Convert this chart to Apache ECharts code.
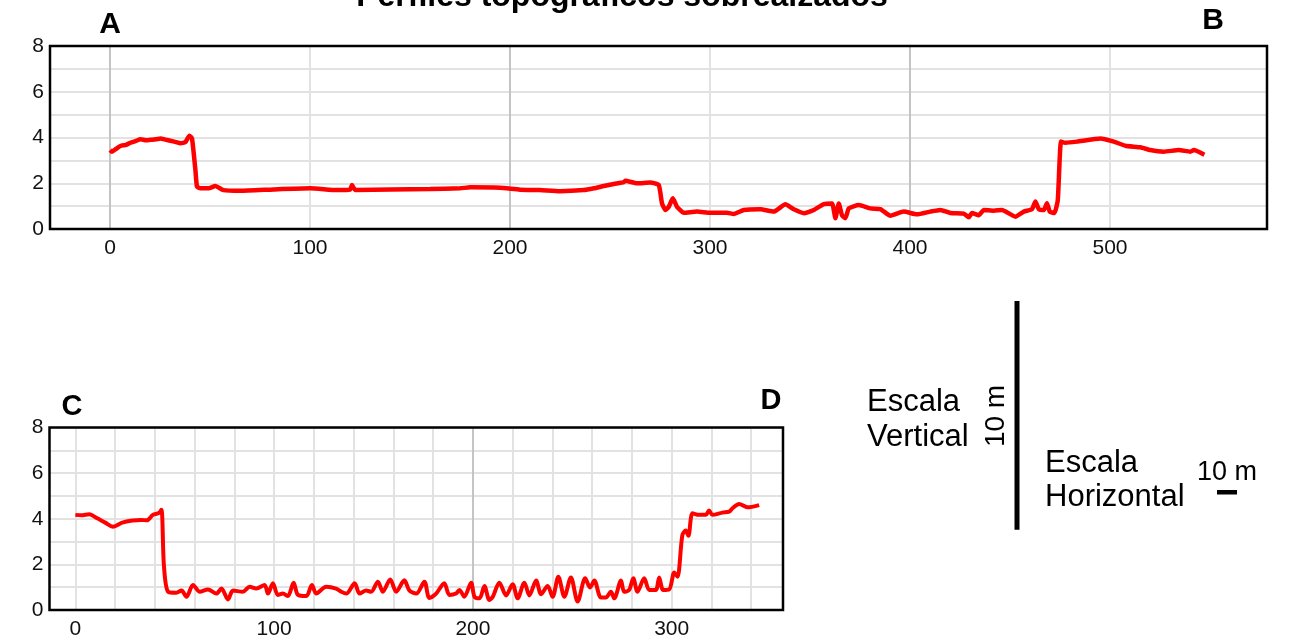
<!DOCTYPE html>
<html>
<head>
<meta charset="utf-8">
<script src="https://cdn.jsdelivr.net/npm/echarts@6/dist/echarts.min.js"></script>
<style>
html,body{margin:0;padding:0;background:#fff;}
#chart{width:1300px;height:643px;}
</style>
</head>
<body>
<div id="chart"></div>
<script>
// ---- Data ----
const titleText = 'Perfiles topográficos sobrealzados';
const yTicks = [0, 2, 4, 6, 8];
const abTickLabels = [0, 100, 200, 300, 400, 500];
const cdTickLabels = [0, 100, 200, 300];
const abGridX = [0, 100, 200, 300, 400, 500];
const abGridXDark = [0, 200, 400];
const cdGridX = [0, 20, 40, 60, 80, 100, 120, 140, 160, 180, 200, 220, 240, 260, 280, 300, 320, 340];
const cdGridXDark = [200];

// Profile A-B : distance (m) and elevation (m)
const abDist = [0, 1, 3, 5.2, 8, 10.2, 13, 15.2, 18, 20.2, 23, 25.2, 28, 30.2, 33, 35.2, 37.7, 39.7, 41, 42.7, 43.5, 45.2, 49.4, 52.7, 56.7, 65.2, 81.7, 100.2, 113.5, 120, 121, 122.7, 140.2, 160, 175, 180, 195, 205, 215, 225, 236.9, 242, 246.9, 251.9, 256.9, 257.7, 263.5, 270.2, 274.4, 276, 277.7, 279.4, 281.4, 283.5, 286.9, 293.5, 300.2, 308.5, 311.9, 316.9, 325.2, 331.9, 337.7, 341.9, 346.9, 351.9, 356.9, 361, 362.7, 364.4, 366, 367.7, 369.4, 374.4, 380.2, 385.2, 390.2, 396.9, 403.5, 410.2, 415.2, 420.2, 426.9, 429.4, 431, 434.4, 436.9, 441.9, 446, 452.7, 456.9, 461, 462.7, 464.4, 466.9, 468.5, 469.9, 472.2, 473.9, 475.5, 477.7, 483.5, 495.2, 501.9, 507.7, 515.2, 520.2, 526.9, 534.4, 540.2, 541.9, 547.2];
const abElev = [3.45, 3.38, 3.5, 3.63, 3.68, 3.77, 3.85, 3.92, 3.88, 3.9, 3.92, 3.96, 3.9, 3.86, 3.8, 3.75, 3.8, 4.08, 3.96, 2.58, 1.85, 1.78, 1.78, 1.88, 1.7, 1.67, 1.73, 1.78, 1.7, 1.72, 1.92, 1.7, 1.73, 1.75, 1.78, 1.82, 1.8, 1.72, 1.7, 1.65, 1.7, 1.78, 1.88, 1.97, 2.05, 2.11, 2.0, 2.03, 1.92, 1.12, 0.83, 0.97, 1.34, 0.97, 0.71, 0.76, 0.71, 0.71, 0.66, 0.83, 0.86, 0.76, 1.08, 0.86, 0.69, 0.83, 1.09, 1.12, 0.47, 1.12, 0.6, 0.47, 0.9, 1.05, 0.9, 0.87, 0.58, 0.76, 0.64, 0.76, 0.83, 0.7, 0.67, 0.51, 0.7, 0.6, 0.83, 0.8, 0.83, 0.54, 0.76, 0.87, 1.2, 0.87, 0.83, 1.13, 0.76, 0.7, 1.27, 3.82, 3.77, 3.82, 3.96, 3.82, 3.64, 3.57, 3.45, 3.38, 3.45, 3.38, 3.45, 3.25];

// Profile C-D : distance (m) and elevation (m)
const cdDist = [0, 3, 7, 11, 15, 19, 23.6, 28.7, 33, 36, 39, 42, 43.3, 44.6, 46.7, 50.8, 53.4, 55.9, 59.2, 62.6, 66.7, 71, 73.5, 76.8, 79.3, 84.3, 87.7, 91, 95.2, 96.9, 99.4, 101.9, 104.4, 106.9, 109.8, 112, 116.2, 119, 121.2, 126.2, 131.2, 133.8, 136.3, 140.5, 143, 146.3, 148.8, 152.2, 154.7, 158.4, 161.4, 165.5, 168.1, 171.5, 175.6, 178.1, 181.5, 185.6, 188.2, 191.5, 193.2, 195.7, 199.1, 200.8, 203.3, 205.8, 208.3, 210, 213.3, 216.7, 220, 222.5, 225.9, 228.4, 231.8, 234.3, 237.6, 240.1, 243, 246, 249.3, 252.7, 256.5, 258.9, 261.1, 264.4, 266.9, 269.4, 271.1, 274.5, 276.1, 278.6, 280.7, 282.8, 286.2, 288.7, 292, 293.7, 295.7, 298.7, 301.3, 302.9, 305.4, 307.1, 308.4, 310.5, 313.8, 317.2, 318.8, 320.5, 325.5, 328.9, 330.6, 333.9, 338.1, 344];
const cdElev = [4.17, 4.15, 4.2, 4.02, 3.83, 3.65, 3.83, 3.92, 3.95, 3.93, 4.17, 4.25, 4.39, 1.9, 0.8, 0.76, 0.85, 0.58, 1.1, 0.8, 0.9, 0.72, 0.94, 0.46, 0.85, 0.8, 1.02, 0.94, 1.1, 0.72, 1.17, 0.66, 0.72, 0.61, 1.2, 0.66, 0.61, 1.1, 0.72, 1.02, 0.94, 0.8, 0.72, 1.17, 0.72, 0.85, 0.8, 1.24, 0.8, 1.34, 0.8, 1.3, 0.85, 0.72, 1.24, 0.53, 0.72, 1.17, 0.66, 0.72, 0.88, 0.58, 1.2, 0.58, 0.51, 1.05, 0.44, 0.58, 1.2, 0.64, 1.13, 0.51, 1.2, 0.64, 1.29, 0.69, 1.05, 0.58, 1.46, 0.58, 1.43, 0.37, 1.39, 0.99, 1.29, 0.55, 0.55, 0.8, 0.51, 1.29, 0.8, 0.88, 1.39, 0.8, 1.39, 0.88, 0.88, 1.43, 0.88, 0.9, 1.64, 1.46, 3.29, 3.48, 3.25, 4.24, 4.17, 4.17, 4.36, 4.17, 4.27, 4.31, 4.46, 4.65, 4.5, 4.6];

const scaleLen = 10; // metres for scale bars

// ---- Chart ----
const FONT = '"Liberation Sans", Arial, sans-serif';
const chart = echarts.init(document.getElementById('chart'), null, {renderer: 'canvas'});

function pairs(xs, ys) { return xs.map((x, i) => [x, ys[i]]); }

function yAxisDef(gi) {
  return {
    type: 'value', gridIndex: gi, min: 0, max: 8, interval: 1,
    axisLine: {show: false}, axisTick: {show: false},
    axisLabel: {
      color: '#111', fontFamily: FONT, fontSize: 21, margin: 6,
      formatter: v => (yTicks.indexOf(v) >= 0 ? String(v) : '')
    },
    splitLine: {show: true, lineStyle: {color: '#e2e2e2', width: 2}}
  };
}
function xAxisDef(gi, min, max, labels) {
  return {
    type: 'value', gridIndex: gi, min: min, max: max,
    axisLine: {show: false}, axisTick: {show: false, customValues: labels},
    axisLabel: {color: '#111', fontFamily: FONT, fontSize: 21, margin: 9, customValues: labels},
    splitLine: {show: false}
  };
}
function gridLines(gi, vals, dark) {
  return {
    type: 'line', xAxisIndex: gi, yAxisIndex: gi, data: [], silent: true, z: 1,
    markLine: {
      silent: true, symbol: ['none', 'none'], z: 1, animation: false,
      label: {show: false},
      data: vals.map(v => ({xAxis: v, lineStyle: {color: dark.indexOf(v) >= 0 ? '#c4c4c4' : '#e2e2e2', width: 2, type: 'solid'}}))
    }
  };
}

const option = {
  animation: false,
  backgroundColor: '#fff',
  grid: [
    {left: 50, top: 46, width: 1217, height: 183, show: false},
    {left: 49.5, top: 427.5, width: 733.5, height: 182.5, show: false}
  ],
  xAxis: [xAxisDef(0, -30, 578.5, abTickLabels), xAxisDef(1, -13, 356, cdTickLabels)],
  yAxis: [yAxisDef(0), yAxisDef(1)],
  series: [
    gridLines(0, abGridX, abGridXDark),
    gridLines(1, cdGridX, cdGridXDark),
    {
      name: 'A-B', type: 'line', xAxisIndex: 0, yAxisIndex: 0, z: 3,
      data: pairs(abDist, abElev), showSymbol: false, smooth: 0.15,
      lineStyle: {color: '#ff0000', width: 4.5}
    },
    {
      name: 'C-D', type: 'line', xAxisIndex: 1, yAxisIndex: 1, z: 3,
      data: pairs(cdDist, cdElev), showSymbol: false, smooth: 0.3,
      lineStyle: {color: '#ff0000', width: 4}
    }
  ],
  graphic: [
    {id: 'title', type: 'text', silent: true, style: {text: titleText, x: 622, y: -3, textAlign: 'center', textVerticalAlign: 'middle', fill: '#000', font: 'bold 32px ' + FONT}},
    {id: 'lA', type: 'text', silent: true, style: {text: 'A', x: 110, y: 24.5, textAlign: 'center', textVerticalAlign: 'middle', fill: '#000', font: 'bold 30px ' + FONT}},
    {id: 'lB', type: 'text', silent: true, style: {text: 'B', x: 1213, y: 21, textAlign: 'center', textVerticalAlign: 'middle', fill: '#000', font: 'bold 30px ' + FONT}},
    {id: 'lC', type: 'text', silent: true, style: {text: 'C', x: 72, y: 407, textAlign: 'center', textVerticalAlign: 'middle', fill: '#000', font: 'bold 29px ' + FONT}},
    {id: 'lD', type: 'text', silent: true, style: {text: 'D', x: 771, y: 401, textAlign: 'center', textVerticalAlign: 'middle', fill: '#000', font: 'bold 29px ' + FONT}},
    {id: 'ev1', type: 'text', silent: true, style: {text: 'Escala', x: 867, y: 402, textAlign: 'left', textVerticalAlign: 'middle', fill: '#000', font: '31px ' + FONT}},
    {id: 'ev2', type: 'text', silent: true, style: {text: 'Vertical', x: 867, y: 437, textAlign: 'left', textVerticalAlign: 'middle', fill: '#000', font: '31px ' + FONT}},
    {id: 'ev3', type: 'text', silent: true, x: 996, y: 416, rotation: Math.PI / 2, style: {text: '10 m', x: 0, y: 0, textAlign: 'center', textVerticalAlign: 'middle', fill: '#000', font: '28px ' + FONT}},
    {id: 'eh1', type: 'text', silent: true, style: {text: 'Escala', x: 1045, y: 463, textAlign: 'left', textVerticalAlign: 'middle', fill: '#000', font: '31px ' + FONT}},
    {id: 'eh2', type: 'text', silent: true, style: {text: 'Horizontal', x: 1045, y: 497, textAlign: 'left', textVerticalAlign: 'middle', fill: '#000', font: '31px ' + FONT}},
    {id: 'eh3', type: 'text', silent: true, style: {text: '10 m', x: 1197, y: 473, textAlign: 'left', textVerticalAlign: 'middle', fill: '#000', font: '27px ' + FONT}}
  ]
};
chart.setOption(option);

// Frames and scale bars derived from the axes' own scales
function frameFor(gi) {
  const a = chart.convertToPixel({gridIndex: gi}, [gi === 0 ? -30 : -13, 8]);
  const b = chart.convertToPixel({gridIndex: gi}, [gi === 0 ? 578.5 : 356, 0]);
  return {id: 'frame' + gi, type: 'rect', silent: true, z: 50,
    shape: {x: a[0], y: a[1], width: b[0] - a[0], height: b[1] - a[1]},
    style: {fill: 'none', stroke: '#000', lineWidth: 2.5}};
}
const p0 = chart.convertToPixel({gridIndex: 0}, [0, 0]);
const p1 = chart.convertToPixel({gridIndex: 0}, [scaleLen, scaleLen]);
const vLen = Math.abs(p0[1] - p1[1]);
const hLen = Math.abs(p1[0] - p0[0]);
chart.setOption({
  graphic: [
    frameFor(0),
    frameFor(1),
    {id: 'vbar', type: 'rect', silent: true, shape: {x: 1014.5, y: 301, width: 5, height: vLen}, style: {fill: '#000'}},
    {id: 'hbar', type: 'rect', silent: true, shape: {x: 1217, y: 490, width: hLen, height: 4.5}, style: {fill: '#000'}}
  ]
});
</script>
</body>
</html>
